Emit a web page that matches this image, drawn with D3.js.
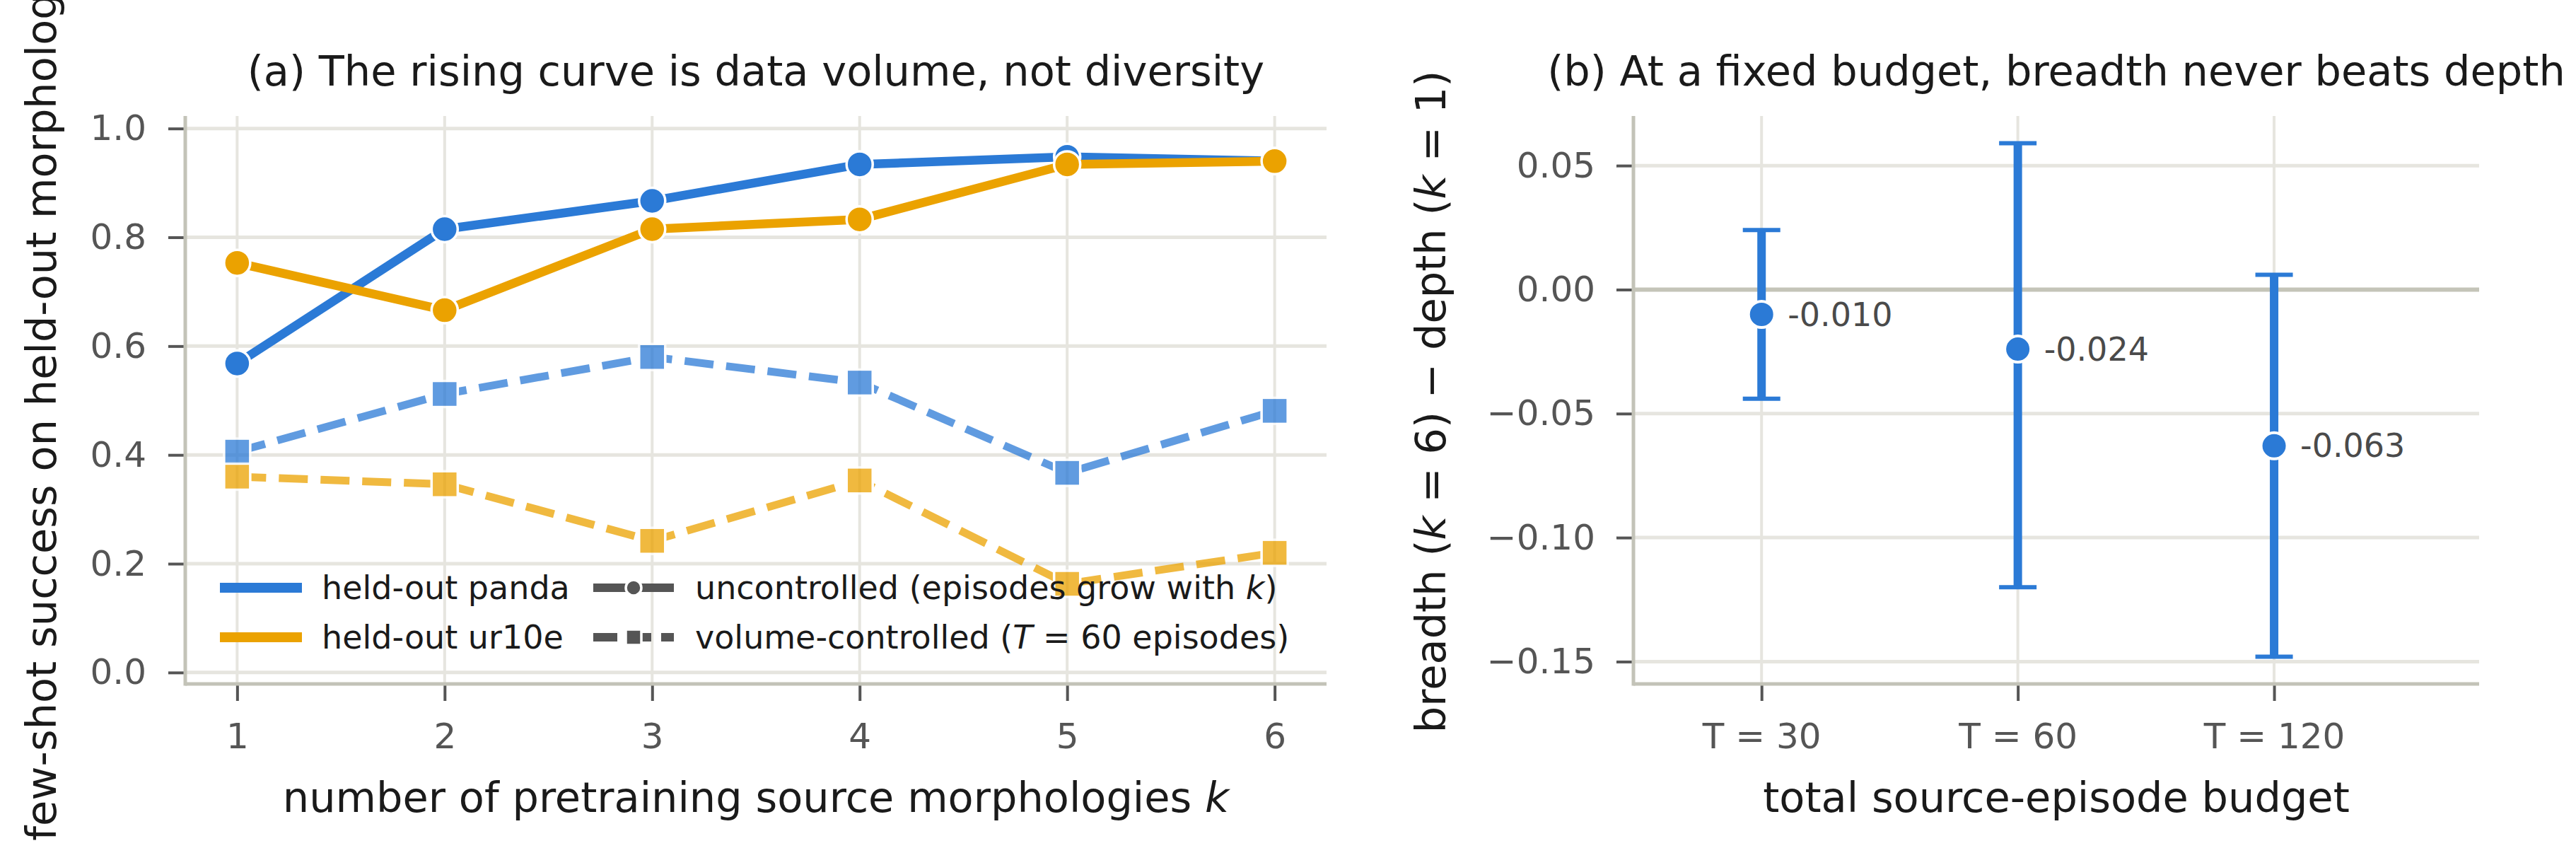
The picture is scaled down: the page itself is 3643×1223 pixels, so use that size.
<!DOCTYPE html>
<html>
<head>
<meta charset="utf-8">
<script src="https://cdn.jsdelivr.net/npm/d3@7"></script>
<style>
  body { margin: 0; background: #fff; }
  svg { display: block; font-family: "DejaVu Sans", sans-serif; }
</style>
</head>
<body>
<svg id="chart"></svg>
<script>
// ---- data ----
const ks = [1, 2, 3, 4, 5, 6];
const pandaUncontrolled = [0.568, 0.815, 0.867, 0.934, 0.948, 0.940];
const ur10eUncontrolled = [0.753, 0.666, 0.815, 0.833, 0.934, 0.940];
const pandaControlled = [0.406, 0.512, 0.580, 0.533, 0.367, 0.481];
const ur10eControlled = [0.360, 0.346, 0.242, 0.353, 0.163, 0.220];

const yTicksA = [0, 0.2, 0.4, 0.6, 0.8, 1.0];

const budgets = ["T = 30", "T = 60", "T = 120"];
const diffMean = [-0.010, -0.024, -0.063];
const diffLo = [-0.044, -0.120, -0.148];
const diffHi = [0.024, 0.059, 0.006];
const yTicksB = [-0.15, -0.10, -0.05, 0.00, 0.05];

const BLUE = "#2b7ad6";
const ORANGE = "#eba200";
const GRID = "#e6e5df";
const SPINE = "#c3c3b8";
const TICK = "#555555";
const BIG = "59px";

const W = 3643, H = 1223;
const svg = d3.select("#chart").attr("width", W).attr("height", H);
svg.append("rect").attr("width", W).attr("height", H).attr("fill", "#fff");

const plotTop = 164, plotBottom = 967;

// common axis styling
const styleAxis = (g) => {
  g.select(".domain").remove();
  g.selectAll(".tick line").attr("stroke", TICK).attr("stroke-width", 4);
  g.selectAll(".tick text")
    .attr("fill", "#555")
    .style("font-size", "50px")
    .style("font-family", "DejaVu Sans");
};

// ================= panel (a) =================
const xa = d3.scaleLinear().domain([0.75, 6.25]).range([262, 1876]);
const ya = d3.scaleLinear().domain([-0.021, 1.023]).range([plotBottom, plotTop]);

const ga = svg.append("g");

// grid
ga.selectAll(null)
  .data(ks)
  .enter()
  .append("line")
  .attr("x1", (d) => xa(d)).attr("x2", (d) => xa(d))
  .attr("y1", plotTop).attr("y2", plotBottom)
  .attr("stroke", GRID).attr("stroke-width", 4);
ga.selectAll(null)
  .data(yTicksA)
  .enter()
  .append("line")
  .attr("x1", 262).attr("x2", 1876)
  .attr("y1", (d) => ya(d)).attr("y2", (d) => ya(d))
  .attr("stroke", GRID).attr("stroke-width", 5);

// axes
ga.append("g")
  .attr("transform", `translate(262,0)`)
  .call(d3.axisLeft(ya).tickValues(yTicksA).tickFormat(d3.format(".1f")).tickSize(24).tickPadding(31))
  .call(styleAxis);
ga.append("g")
  .attr("transform", `translate(0,${plotBottom})`)
  .call(d3.axisBottom(xa).tickValues(ks).tickFormat(d3.format("d")).tickSize(24).tickPadding(31))
  .call(styleAxis);

// spines
ga.append("line").attr("x1", 262).attr("x2", 262).attr("y1", plotTop).attr("y2", plotBottom + 2.5)
  .attr("stroke", SPINE).attr("stroke-width", 5);
ga.append("line").attr("x1", 262).attr("x2", 1876).attr("y1", plotBottom).attr("y2", plotBottom)
  .attr("stroke", SPINE).attr("stroke-width", 5);

const lineA = d3.line().x((d, i) => xa(ks[i])).y((d) => ya(d));

const drawSolid = (vals, color) => {
  ga.append("path")
    .attr("d", lineA(vals))
    .attr("fill", "none")
    .attr("stroke", color)
    .attr("stroke-width", 12.5)
    .attr("stroke-linejoin", "round")
    .attr("stroke-linecap", "square");
  ga.selectAll(null)
    .data(vals)
    .enter()
    .append("circle")
    .attr("cx", (d, i) => xa(ks[i]))
    .attr("cy", (d) => ya(d))
    .attr("r", 18.5)
    .attr("fill", color)
    .attr("stroke", "#fff")
    .attr("stroke-width", 3.5);
};

const drawDashed = (vals, color) => {
  const g = ga.append("g").attr("opacity", 0.75);
  g.append("path")
    .attr("d", lineA(vals))
    .attr("fill", "none")
    .attr("stroke", color)
    .attr("stroke-width", 11)
    .attr("stroke-dasharray", "41,18")
    .attr("stroke-linejoin", "round");
  g.selectAll(null)
    .data(vals)
    .enter()
    .append("rect")
    .attr("x", (d, i) => xa(ks[i]) - 18.5)
    .attr("y", (d) => ya(d) - 18.5)
    .attr("width", 37)
    .attr("height", 37)
    .attr("fill", color)
    .attr("stroke", "#fff")
    .attr("stroke-width", 3.5);
};

drawSolid(pandaUncontrolled, BLUE);
drawSolid(ur10eUncontrolled, ORANGE);
drawDashed(pandaControlled, BLUE);
drawDashed(ur10eControlled, ORANGE);

// legend
const leg = ga.append("g").style("font-size", "46px").attr("fill", "#1a1a1a");
const legColors = [["held-out panda", BLUE], ["held-out ur10e", ORANGE]];
const rowY = [831, 901];
legColors.forEach((d, i) => {
  leg.append("line").attr("x1", 311).attr("x2", 427).attr("y1", rowY[i]).attr("y2", rowY[i])
    .attr("stroke", d[1]).attr("stroke-width", 14);
  leg.append("text").attr("x", 455).attr("y", rowY[i]).attr("dy", "0.35em").text(d[0]);
});
// style handles
leg.append("line").attr("x1", 839).attr("x2", 953).attr("y1", rowY[0]).attr("y2", rowY[0])
  .attr("stroke", TICK).attr("stroke-width", 12);
leg.append("circle").attr("cx", 896).attr("cy", rowY[0]).attr("r", 11)
  .attr("fill", TICK).attr("stroke", "#fff").attr("stroke-width", 3.5);
leg.append("line").attr("x1", 839).attr("x2", 953).attr("y1", rowY[1]).attr("y2", rowY[1])
  .attr("stroke", TICK).attr("stroke-width", 12).attr("stroke-dasharray", "34,14");
leg.append("rect").attr("x", 885).attr("y", rowY[1] - 11).attr("width", 22).attr("height", 22)
  .attr("fill", TICK).attr("stroke", "#fff").attr("stroke-width", 3.5);

const t1 = leg.append("text").attr("x", 983).attr("y", rowY[0]).attr("dy", "0.35em");
t1.append("tspan").text("uncontrolled (episodes grow with ");
t1.append("tspan").attr("font-style", "italic").text("k");
t1.append("tspan").text(")");
const t2 = leg.append("text").attr("x", 983).attr("y", rowY[1]).attr("dy", "0.35em");
t2.append("tspan").text("volume-controlled (");
t2.append("tspan").attr("font-style", "italic").text("T");
t2.append("tspan").text(" = 60 episodes)");

// titles and labels
ga.append("text")
  .attr("x", 1069).attr("y", 121)
  .attr("text-anchor", "middle")
  .style("font-size", BIG).attr("fill", "#1a1a1a")
  .text("(a) The rising curve is data volume, not diversity");

const xla = ga.append("text")
  .attr("x", 1069).attr("y", 1148)
  .attr("text-anchor", "middle")
  .style("font-size", BIG).attr("fill", "#1a1a1a");
xla.append("tspan").text("number of pretraining source morphologies ");
xla.append("tspan").attr("font-style", "italic").text("k");

// the reference figure clips this label at its top edge
ga.append("text")
  .attr("transform", "translate(79,572) rotate(-90)")
  .attr("text-anchor", "middle")
  .style("font-size", BIG).attr("fill", "#1a1a1a")
  .text("few-shot success on held-out morphology");

// ================= panel (b) =================
const xb = d3.scaleLinear().domain([-0.5, 2.8]).range([2310, 3506]);
const yb = d3.scaleLinear().domain([-0.159, 0.07]).range([plotBottom, plotTop]);
const idx = budgets.map((d, i) => i);

const gb = svg.append("g");

gb.selectAll(null)
  .data(idx)
  .enter()
  .append("line")
  .attr("x1", (d) => xb(d)).attr("x2", (d) => xb(d))
  .attr("y1", plotTop).attr("y2", plotBottom)
  .attr("stroke", GRID).attr("stroke-width", 4);
gb.selectAll(null)
  .data(yTicksB)
  .enter()
  .append("line")
  .attr("x1", 2310).attr("x2", 3506)
  .attr("y1", (d) => yb(d)).attr("y2", (d) => yb(d))
  .attr("stroke", GRID).attr("stroke-width", 5);

// zero reference line
gb.append("line")
  .attr("x1", 2310).attr("x2", 3506)
  .attr("y1", yb(0)).attr("y2", yb(0))
  .attr("stroke", "#c4c4b8").attr("stroke-width", 6);

gb.append("g")
  .attr("transform", `translate(2310,0)`)
  .call(d3.axisLeft(yb).tickValues(yTicksB).tickFormat(d3.format(".2f")).tickSize(24).tickPadding(30))
  .call(styleAxis);
gb.append("g")
  .attr("transform", `translate(0,${plotBottom})`)
  .call(d3.axisBottom(xb).tickValues(idx).tickFormat((d) => budgets[d]).tickSize(24).tickPadding(31))
  .call(styleAxis);

gb.append("line").attr("x1", 2310).attr("x2", 2310).attr("y1", plotTop).attr("y2", plotBottom + 2.5)
  .attr("stroke", SPINE).attr("stroke-width", 5);
gb.append("line").attr("x1", 2310).attr("x2", 3506).attr("y1", plotBottom).attr("y2", plotBottom)
  .attr("stroke", SPINE).attr("stroke-width", 5);

// error bars
gb.selectAll(null)
  .data(idx)
  .enter()
  .append("line")
  .attr("x1", (d) => xb(d)).attr("x2", (d) => xb(d))
  .attr("y1", (d) => yb(diffLo[d])).attr("y2", (d) => yb(diffHi[d]))
  .attr("stroke", BLUE).attr("stroke-width", 12);
[diffLo, diffHi].forEach((arr) => {
  gb.selectAll(null)
    .data(idx)
    .enter()
    .append("line")
    .attr("x1", (d) => xb(d) - 26.5).attr("x2", (d) => xb(d) + 26.5)
    .attr("y1", (d) => yb(arr[d])).attr("y2", (d) => yb(arr[d]))
    .attr("stroke", BLUE).attr("stroke-width", 6);
});
gb.selectAll(null)
  .data(idx)
  .enter()
  .append("circle")
  .attr("cx", (d) => xb(d))
  .attr("cy", (d) => yb(diffMean[d]))
  .attr("r", 18.5)
  .attr("fill", BLUE)
  .attr("stroke", "#fff")
  .attr("stroke-width", 4);
gb.selectAll(null)
  .data(idx)
  .enter()
  .append("text")
  .attr("x", (d) => xb(d) + 37)
  .attr("y", (d) => yb(diffMean[d]))
  .attr("dy", "0.35em")
  .style("font-size", "46px")
  .attr("fill", "#4a4a4a")
  .text((d) => diffMean[d].toFixed(3));

gb.append("text")
  .attr("x", 2908).attr("y", 121)
  .attr("text-anchor", "middle")
  .style("font-size", BIG).attr("fill", "#1a1a1a")
  .text("(b) At a fixed budget, breadth never beats depth");

gb.append("text")
  .attr("x", 2908).attr("y", 1148)
  .attr("text-anchor", "middle")
  .style("font-size", BIG).attr("fill", "#1a1a1a")
  .text("total source-episode budget");

const ylb = gb.append("text")
  .attr("transform", "translate(2044,568) rotate(-90)")
  .attr("text-anchor", "middle")
  .style("font-size", BIG).attr("fill", "#1a1a1a");
ylb.append("tspan").text("breadth (");
ylb.append("tspan").attr("font-style", "italic").text("k");
ylb.append("tspan").text(" = 6) \u2212 depth (");
ylb.append("tspan").attr("font-style", "italic").text("k");
ylb.append("tspan").text(" = 1)");
</script>
</body>
</html>
